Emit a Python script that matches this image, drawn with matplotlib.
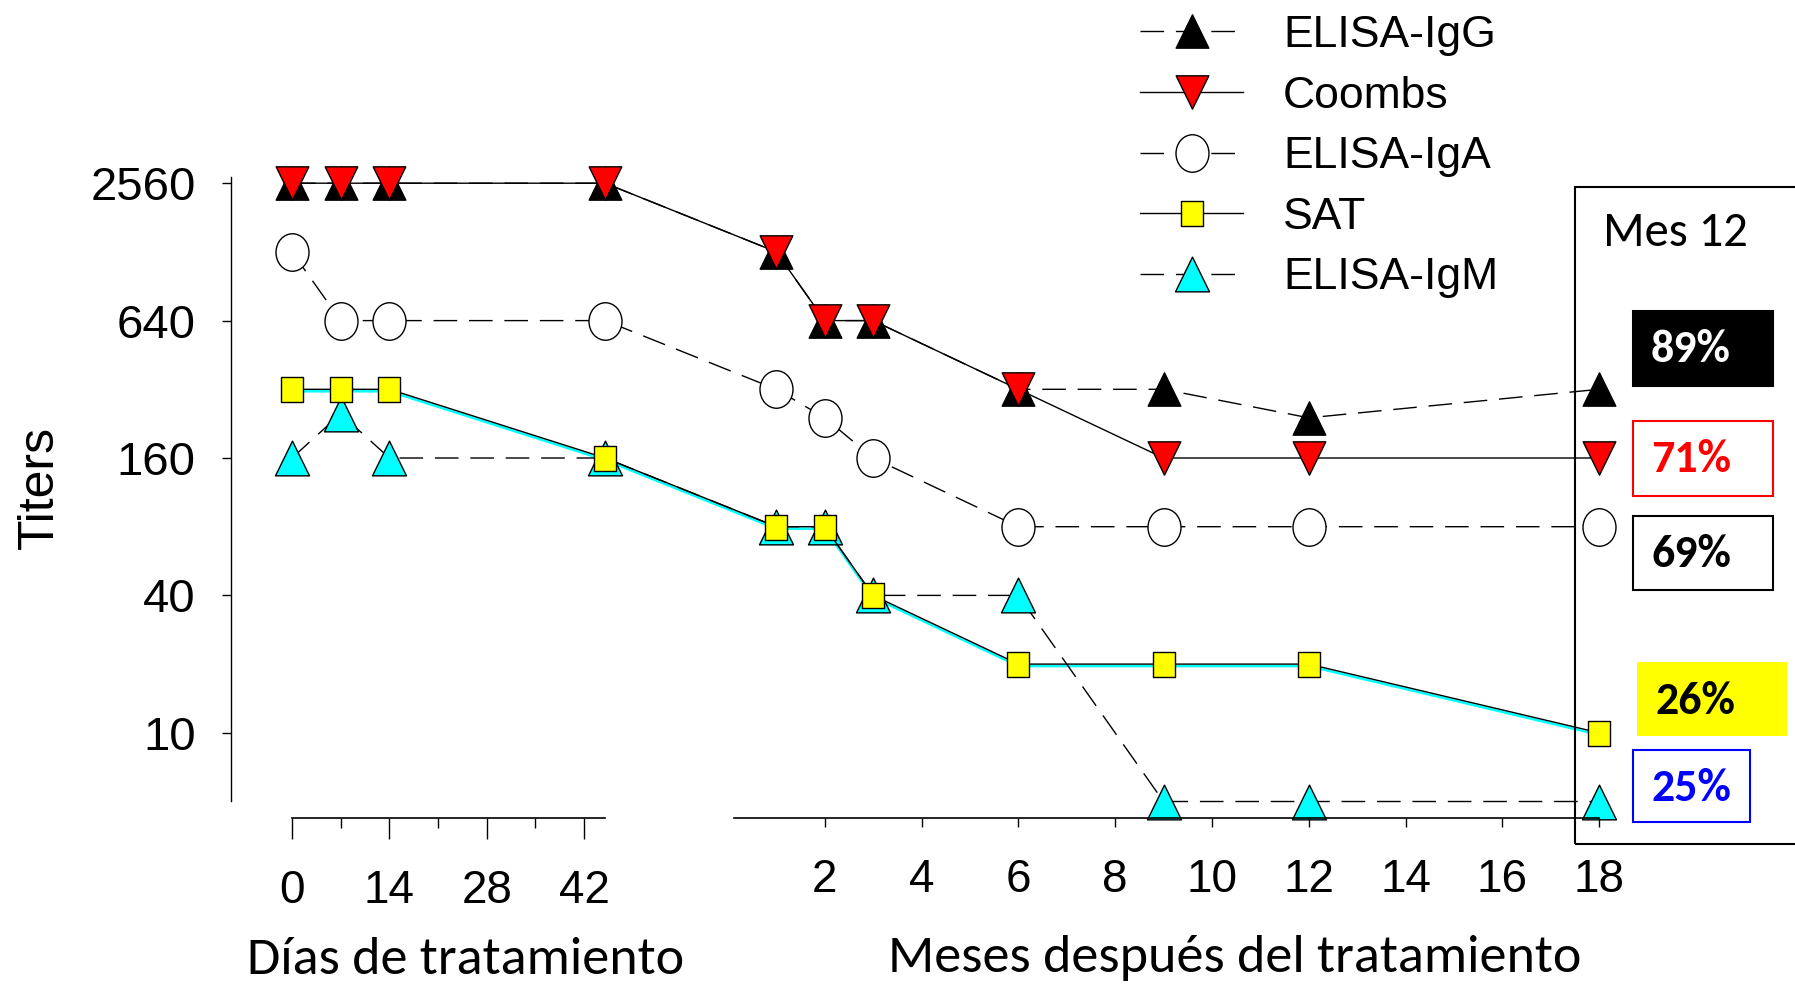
import matplotlib
matplotlib.use("Agg")
import numpy as np
import matplotlib.pyplot as plt
from matplotlib import font_manager as fm
from matplotlib.path import Path
from matplotlib.lines import Line2D
from matplotlib.patches import Rectangle
from matplotlib.ticker import FixedLocator, NullFormatter, NullLocator
import matplotlib.transforms as mtransforms

# ---------------- data ----------------
days = [0, 7, 14, 45]
months = [1, 2, 3, 6, 9, 12, 18]

igg_days = [2560, 2560, 2560, 2560]
igg_months = [1280, 640, 640, 320, 320, 240, 320]
coombs_days = [2560, 2560, 2560, 2560]
coombs_months = [1280, 640, 640, 320, 160, 160, 160]
iga_days = [1280, 640, 640, 640]
iga_months = [320, 240, 160, 80, 80, 80, 80]
sat_days = [320, 320, 320, 160]
sat_months = [80, 80, 40, 20, 20, 20, 10]
igm_days = [160, 250, 160, 160]
igm_months = [80, 80, 40, 40, 5, 5, 5]

y_ticks = [10, 40, 160, 640, 2560]
day_ticks = [0, 14, 28, 42]
day_minor_ticks = [7, 21, 35]
month_ticks = [2, 4, 6, 8, 10, 12, 14, 16, 18]

series_labels = ["ELISA-IgG", "Coombs", "ELISA-IgA", "SAT", "ELISA-IgM"]
pct_labels = ["89%", "71%", "69%", "26%", "25%"]

# ---------------- fonts ----------------
_avail = {f.name for f in fm.fontManager.ttflist}
def pick(*names):
    for n in names:
        if n in _avail:
            return n
    return "DejaVu Sans"
ARIAL = pick("Liberation Sans", "Arimo", "Arial")
CALIBRI = pick("Carlito", "Calibri", "Lato", "Open Sans")

# ---------------- layout (pixels of a 1795x986 figure) ----------------
W, H = 1795, 986
fig = plt.figure(figsize=(W / 100, H / 100), dpi=100)

AX_LEFT_PX, AX_RIGHT_PX = 231, 1700
AX_TOP_PX, AX_BOT_PX = 177, 817.7
DAY0_PX, PX_PER_DAY = 292.0, 6.957
MONTH_ORIGIN = 62.66          # axis units of month 0
MONTH_SCALE = 6.957           # axis units per month
Y2560_PX, PX_PER_OCT = 183.2, 68.7

def month_x(m):
    return MONTH_ORIGIN + MONTH_SCALE * np.asarray(m, dtype=float)

xl = ((AX_LEFT_PX - DAY0_PX) / PX_PER_DAY, (AX_RIGHT_PX - DAY0_PX) / PX_PER_DAY)
l2 = np.log2(2560)
yl = (2 ** (l2 - (AX_BOT_PX - Y2560_PX) / PX_PER_OCT),
      2 ** (l2 + (Y2560_PX - AX_TOP_PX) / PX_PER_OCT))
rect = [AX_LEFT_PX / W, 1 - AX_BOT_PX / H, (AX_RIGHT_PX - AX_LEFT_PX) / W,
        (AX_BOT_PX - AX_TOP_PX) / H]

ax = fig.add_axes(rect)
ax.set_yscale("log", base=2)
ax.set_xlim(*xl)
ax.set_ylim(*yl)
ax.patch.set_alpha(0)

# ---------------- markers with the reference's slightly tall aspect ----------------
def tri(aspect, down=False):
    s = -1 if down else 1
    v = [(0, s * 1), (-aspect, -s * 1), (aspect, -s * 1), (0, s * 1)]
    return Path(v, [Path.MOVETO, Path.LINETO, Path.LINETO, Path.CLOSEPOLY])

def ellipse(aspect):
    c = Path.unit_circle()
    return Path(c.vertices * np.array([aspect, 1.0]), c.codes)

def rect_marker(aspect):
    v = [(-aspect, -1), (aspect, -1), (aspect, 1), (-aspect, 1), (-aspect, -1)]
    return Path(v, [Path.MOVETO, Path.LINETO, Path.LINETO, Path.LINETO, Path.CLOSEPOLY])

M_UP = tri(0.98)
M_DOWN = tri(0.98, down=True)
M_CIRC = ellipse(0.88)
M_SQ = rect_marker(0.86)

LW = 1.0
DASH = (17, 8.5)

styles = {
    "ELISA-IgG": dict(marker=M_UP, markersize=24, mfc="black", mec="black", ls=(0, DASH)),
    "Coombs": dict(marker=M_DOWN, markersize=24, mfc="#ff0000", mec="black", ls="-"),
    "ELISA-IgA": dict(marker=M_CIRC, markersize=27, mfc="white", mec="black", ls=(0, DASH)),
    "SAT": dict(marker=M_SQ, markersize=18, mfc="#ffff00", mec="black", ls="-"),
    "ELISA-IgM": dict(marker=M_UP, markersize=25, mfc="#00ffff", mec="black", ls=(0, DASH)),
}

xs = np.concatenate([np.asarray(days, float), month_x(months)])
data = {
    "ELISA-IgG": igg_days + igg_months,
    "Coombs": coombs_days + coombs_months,
    "ELISA-IgA": iga_days + iga_months,
    "SAT": sat_days + sat_months,
    "ELISA-IgM": igm_days + igm_months,
}

# cyan shadow along the SAT line (as in the reference rendering)
shadow = mtransforms.offset_copy(ax.transData, fig=fig, x=0, y=-2, units="dots")
ax.plot(xs, data["SAT"], color="#00ffff", lw=1.8, transform=shadow, zorder=2,
        solid_capstyle="butt")

draw_order = ["ELISA-IgM", "SAT", "ELISA-IgA", "ELISA-IgG", "Coombs"]
for z, name in enumerate(draw_order):
    st = styles[name]
    ax.plot(xs, data[name], color="black", lw=LW, linestyle=st["ls"],
            marker=st["marker"], markersize=st["markersize"],
            markerfacecolor=st["mfc"], markeredgecolor=st["mec"], markeredgewidth=1.0,
            clip_on=False, zorder=3 + z)

# ---------------- axes decoration ----------------
for sp in ["top", "right"]:
    ax.spines[sp].set_visible(False)
ax.spines["left"].set_bounds(5.03, yl[1])
ax.spines["left"].set_linewidth(1.0)
ax.spines["bottom"].set_bounds(0, 45)
ax.spines["bottom"].set_linewidth(1.2)

ax.yaxis.set_major_locator(FixedLocator(y_ticks))
ax.yaxis.set_minor_locator(NullLocator())
ax.set_yticklabels([str(v) for v in y_ticks])
ax.tick_params(axis="y", which="major", direction="out", length=6.5, width=1.0,
               pad=19, labelsize=34)

ax.xaxis.set_major_locator(FixedLocator(day_ticks))
ax.xaxis.set_minor_locator(FixedLocator(day_minor_ticks))
ax.xaxis.set_minor_formatter(NullFormatter())
ax.set_xticklabels([str(d) for d in day_ticks])
ax.tick_params(axis="x", which="major", direction="out", length=15, width=1.0,
               pad=22, labelsize=33)
ax.tick_params(axis="x", which="minor", direction="out", length=7, width=1.0)
for t in ax.get_xticklabels() + ax.get_yticklabels():
    t.set_fontfamily(ARIAL)

# month axis (second bottom axis)
ax2 = fig.add_axes(rect)
ax2.patch.set_alpha(0)
ax2.set_xlim((xl[0] - MONTH_ORIGIN) / MONTH_SCALE, (xl[1] - MONTH_ORIGIN) / MONTH_SCALE)
ax2.set_ylim(0, 1)
for sp in ["top", "right", "left"]:
    ax2.spines[sp].set_visible(False)
ax2.spines["bottom"].set_bounds((734 - (DAY0_PX + MONTH_ORIGIN * PX_PER_DAY)) / (MONTH_SCALE * PX_PER_DAY), 18)
ax2.spines["bottom"].set_linewidth(1.2)
ax2.set_yticks([])
ax2.xaxis.set_major_locator(FixedLocator(month_ticks))
ax2.set_xticklabels([str(m) for m in month_ticks])
ax2.tick_params(axis="x", direction="out", length=6.8, width=1.0, pad=22, labelsize=33)
for t in ax2.get_xticklabels():
    t.set_fontfamily(ARIAL)

def fx(px):
    return px / W

def fy(py):
    return 1 - py / H

fig.text(fx(40), fy(487.7), "Titers", rotation=90, ha="center", va="center",
         fontsize=36, family=ARIAL)
fig.text(fx(466), fy(974), "Días de tratamiento", ha="center", va="baseline",
         fontsize=39, family=CALIBRI)
fig.text(fx(1234.7), fy(972), "Meses después del tratamiento", ha="center", va="baseline",
         fontsize=39, family=CALIBRI)

# ---------------- legend ----------------
handles = [Line2D([], [], color="black", lw=LW, linestyle=styles[n]["ls"],
                  marker=styles[n]["marker"], markersize=styles[n]["markersize"],
                  markerfacecolor=styles[n]["mfc"], markeredgecolor=styles[n]["mec"],
                  markeredgewidth=1.0) for n in series_labels]
leg = fig.legend(handles, series_labels, loc="upper left",
                 bbox_to_anchor=(fx(1140), fy(15)), frameon=False,
                 prop={"family": ARIAL, "size": 32}, handlelength=2.32,
                 handletextpad=0.9, labelspacing=0.44, borderpad=0, borderaxespad=0)

# ---------------- "Mes 12" box ----------------
fig.patches.append(Rectangle((fx(1575), fy(843.7)), fx(1900 - 1575), (843.7 - 186.6) / H,
                             transform=fig.transFigure, fill=False, ec="black", lw=1.5,
                             clip_on=False, zorder=1))
fig.text(fx(1603), fy(233.5), "Mes 12", ha="left", va="center", fontsize=35, family=CALIBRI)

pct_boxes = [  # x0, x1, y0, y1 (px), face, edge, text colour, text centre (px)
    (1632.5, 1773.3, 311.4, 385.8, "black", "black", "white", (1691, 349)),
    (1632.5, 1773.3, 421.3, 495.7, "white", "#ff0000", "#ff0000", (1691, 459)),
    (1632.5, 1773.3, 516.3, 589.6, "white", "black", "black", (1691, 554)),
    (1637.0, 1787.0, 661.7, 736.1, "#ffff00", "none", "black", (1695.5, 700.6)),
    (1632.5, 1750.4, 749.8, 822.0, "white", "#0000ff", "#0000ff", (1691, 787.6)),
]
for lab, (x0, x1, y0, y1, fc, ec, tc, (tx, ty)) in zip(pct_labels, pct_boxes):
    fig.patches.append(Rectangle((fx(x0), fy(y1)), (x1 - x0) / W, (y1 - y0) / H,
                                 transform=fig.transFigure, fc=fc, ec=ec, lw=1.5, zorder=2))
    fig.text(fx(tx), fy(ty), lab, ha="center", va="center", fontsize=33,
             fontweight="bold", color=tc, family=CALIBRI, zorder=3)

fig.savefig("out.png", dpi=100)
